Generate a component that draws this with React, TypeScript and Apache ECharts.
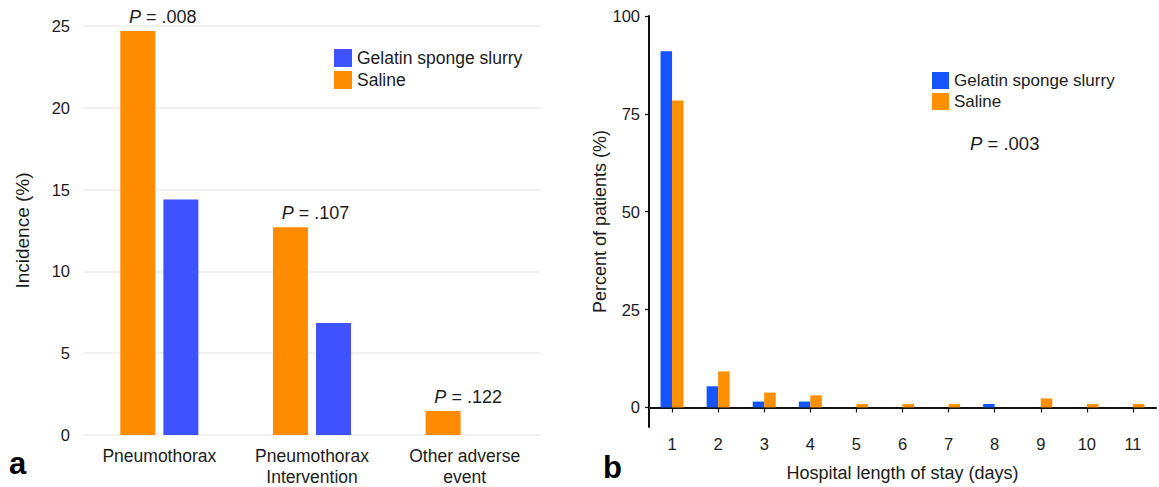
import React, { useEffect, useRef } from "react";
import * as echarts from "echarts";

const leftCategories = ["Pneumothorax", "Pneumothorax\nIntervention", "Other adverse\nevent"];
const leftSaline = [24.7, 12.7, 1.47];
const leftGelatin = [14.4, 6.85, 0];
const leftPValues = [".008", ".107", ".122"];

const rightCategories = ["1", "2", "3", "4", "5", "6", "7", "8", "9", "10", "11"];
const rightGelatin = [91.0, 5.4, 1.5, 1.5, 0, 0, 0, 0.9, 0, 0, 0];
const rightSaline = [78.4, 9.2, 3.8, 3.1, 0.9, 0.9, 0.9, 0, 2.3, 0.9, 0.9];
const rightPValue = ".003";
const rightYTicks = [0, 25, 50, 75, 100];

const FONT = "'Liberation Sans', Arial, Helvetica, sans-serif";
const TXT = "#1c1c1c";
const L_BLUE = "#3f52ff";
const L_ORANGE = "#ff8c00";
const R_BLUE = "#1554ff";
const R_ORANGE = "#ff9100";

export default function App() {
  const ref = useRef<HTMLDivElement>(null);
  useEffect(() => {
    if (!ref.current) return;
    const chart = echarts.init(ref.current, undefined, { renderer: "svg" });
    const option: any = {
      animation: false,
      backgroundColor: "#ffffff",
      textStyle: { fontFamily: FONT, color: TXT },
      grid: [
        { left: 83, right: 618, top: 26, bottom: 52, containLabel: false },
        { left: 649, right: 3, top: 16, bottom: 60, containLabel: false },
      ],
      legend: [
        {
          orient: "vertical",
          left: 334,
          top: 49,
          padding: 0,
          itemWidth: 18,
          itemHeight: 18,
          itemGap: 4,
          icon: "rect",
          textStyle: { fontSize: 17.5, color: TXT, fontFamily: FONT },
          data: [
            { name: "Gelatin sponge slurry", itemStyle: { color: L_BLUE } },
            { name: "Saline", itemStyle: { color: L_ORANGE } },
          ],
          selectedMode: false,
        },
        {
          orient: "vertical",
          left: 932,
          top: 72,
          padding: 0,
          itemWidth: 17,
          itemHeight: 17,
          itemGap: 4,
          icon: "rect",
          textStyle: { fontSize: 17, color: TXT, fontFamily: FONT },
          data: [
            { name: "Gelatin sponge slurry", itemStyle: { color: R_BLUE } },
            { name: "Saline", itemStyle: { color: R_ORANGE } },
          ],
          selectedMode: false,
        },
      ],
      xAxis: [
        {
          type: "category",
          gridIndex: 0,
          data: leftCategories,
          axisLine: { show: false },
          axisTick: { show: false },
          axisLabel: { fontSize: 17.5, color: TXT, margin: 10, lineHeight: 21, fontFamily: FONT },
        },
        {
          type: "category",
          gridIndex: 1,
          data: rightCategories,
          name: "Hospital length of stay (days)",
          nameLocation: "middle",
          nameGap: 37,
          nameTextStyle: { fontSize: 18, color: TXT, fontFamily: FONT },
          axisLine: { show: true, lineStyle: { color: "#111", width: 2 } },
          axisTick: { show: true, alignWithLabel: true, length: 5, lineStyle: { color: "#111", width: 1.2 } },
          axisLabel: { fontSize: 16.5, color: TXT, margin: 8, fontFamily: FONT },
        },
      ],
      yAxis: [
        {
          type: "value",
          gridIndex: 0,
          min: 0,
          max: 25,
          interval: 5,
          name: "Incidence (%)",
          nameLocation: "middle",
          nameGap: 51,
          nameTextStyle: { fontSize: 19, color: TXT, fontFamily: FONT },
          axisLine: { show: false },
          axisTick: { show: false },
          axisLabel: { fontSize: 16.5, color: TXT, margin: 13, fontFamily: FONT },
          splitLine: { show: true, lineStyle: { color: "#ececec", width: 1.5 } },
        },
        {
          type: "value",
          gridIndex: 1,
          min: -5,
          max: 100,
          name: "Percent of patients (%)",
          nameLocation: "middle",
          nameGap: 31,
          nameTextStyle: { fontSize: 18, color: TXT, fontFamily: FONT },
          axisLine: { show: true, lineStyle: { color: "#111", width: 2 } },
          axisTick: { show: true, length: 4, customValues: rightYTicks, lineStyle: { color: "#111", width: 1.2 } },
          axisLabel: { fontSize: 16.5, color: TXT, margin: 9, customValues: rightYTicks, fontFamily: FONT },
          splitLine: { show: false },
        },
      ],
      series: [
        {
          name: "Saline",
          type: "bar",
          xAxisIndex: 0,
          yAxisIndex: 0,
          data: leftSaline,
          barWidth: 35,
          barGap: "23%",
          itemStyle: { color: L_ORANGE },
          label: {
            show: true,
            position: "top",
            distance: 5,
            offset: [25, 0],
            fontSize: 18,
            color: TXT,
            fontFamily: FONT,
            formatter: (p: any) => `{i|P} = ${leftPValues[p.dataIndex]}`,
            rich: { i: { fontStyle: "italic", fontSize: 18, color: TXT, fontFamily: FONT } },
          },
        },
        {
          name: "Gelatin sponge slurry",
          type: "bar",
          xAxisIndex: 0,
          yAxisIndex: 0,
          data: leftGelatin,
          barWidth: 35,
          barGap: "23%",
          itemStyle: { color: L_BLUE },
        },
        {
          name: "Gelatin sponge slurry",
          type: "bar",
          xAxisIndex: 1,
          yAxisIndex: 1,
          data: rightGelatin,
          barWidth: 11.5,
          barGap: 0,
          itemStyle: { color: R_BLUE },
        },
        {
          name: "Saline",
          type: "bar",
          xAxisIndex: 1,
          yAxisIndex: 1,
          data: rightSaline,
          barWidth: 11.5,
          barGap: 0,
          itemStyle: { color: R_ORANGE },
        },
      ],
      graphic: [
        {
          type: "text",
          left: 970,
          top: 134,
          style: {
            text: `{i|P} = ${rightPValue}`,
            fontSize: 18.5,
            fill: TXT,
            fontFamily: FONT,
            rich: { i: { fontStyle: "italic", fontSize: 18.5, fill: TXT, fontFamily: FONT } },
          },
        },
        {
          type: "text",
          left: 9,
          top: 448,
          style: { text: "a", fontSize: 31, fontWeight: "bold", fill: "#000", fontFamily: FONT },
        },
        {
          type: "text",
          left: 603,
          top: 452,
          style: { text: "b", fontSize: 31, fontWeight: "bold", fill: "#000", fontFamily: FONT },
        },
      ],
    };
    chart.setOption(option);
    return () => chart.dispose();
  }, []);
  return (
    <div
      ref={ref}
      style={{ position: "fixed", left: 0, top: 0, width: 1159, height: 487, background: "#fff" }}
    />
  );
}
